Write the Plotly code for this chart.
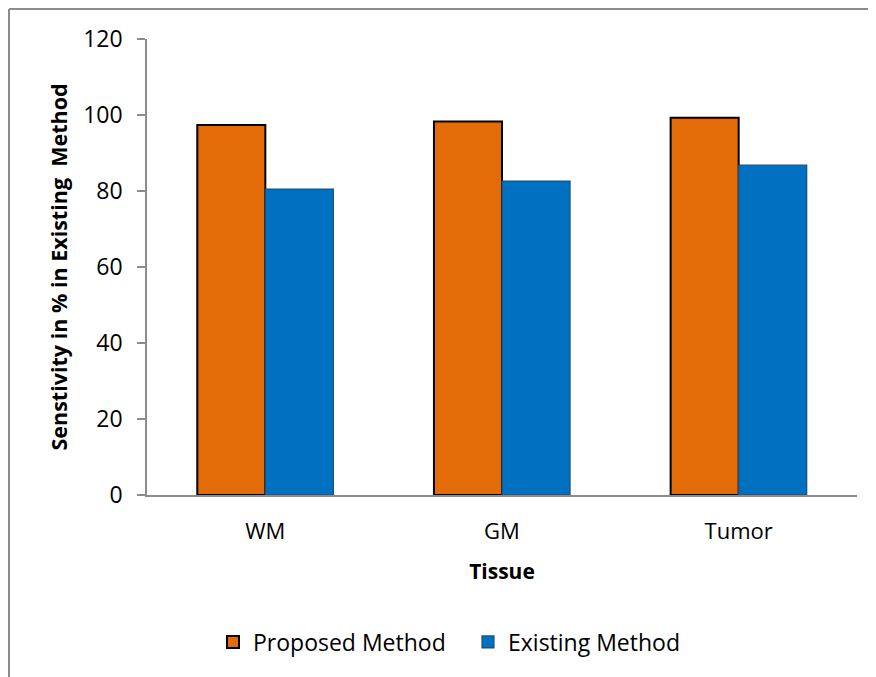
import plotly.graph_objects as go

categories = ["WM", "GM", "Tumor"]
proposed = [97.4, 98.3, 99.3]
existing = [80.5, 82.6, 86.8]
y_ticks = [0, 20, 40, 60, 80, 100, 120]

FONT = "Open Sans"

fig = go.Figure()
fig.add_trace(go.Bar(
    x=categories, y=proposed, name="Proposed Method",
    marker=dict(color="#E36C09", line=dict(color="#000000", width=2)),
))
fig.add_trace(go.Bar(
    x=categories, y=existing, name="Existing Method",
    marker=dict(color="#0070C0", line=dict(color="#1F4E79", width=1.2)),
))

# page body has an 8px margin, so the figure is placed at (8, 8)
OFF = 8
W, H = 876 - OFF, 677 - OFF
L, R, T, B = 147 - OFF, 19, 39 - OFF, 182
pw, ph = W - L - R, H - T - B

def px(x):
    return (x - OFF - L) / pw

def py(y):
    return (H - B - (y - OFF)) / ph

fig.update_layout(
    width=W, height=H,
    margin=dict(l=L, r=R, t=T, b=B),
    paper_bgcolor="white", plot_bgcolor="white",
    barmode="group", bargap=0.425, bargroupgap=0,
    font=dict(family=FONT, color="#000000"),
    showlegend=True,
    legend=dict(orientation="h", x=px(213), xanchor="left", y=py(642), yanchor="middle",
                font=dict(size=23, family=FONT), itemwidth=30, tracegroupgap=0,
                entrywidth=210, entrywidthmode="pixels"),
    xaxis=dict(
        showline=True, linecolor="#8C8C8C", linewidth=2, ticks="",
        tickfont=dict(size=22, family=FONT), ticklabelstandoff=16,
        title=dict(text="<b>Tissue</b>", font=dict(size=21, family=FONT), standoff=20),
        showgrid=False,
    ),
    yaxis=dict(
        range=[0, 120], tickvals=y_ticks, showgrid=False, zeroline=False,
        showline=True, linecolor="#8C8C8C", linewidth=1.5,
        ticks="outside", ticklen=8, tickcolor="#8C8C8C", tickwidth=1.5,
        tickfont=dict(size=23, family=FONT), ticklabelstandoff=10,
        title=dict(text="<b>Senstivity in % in Existing  Method</b>", font=dict(size=21.5, family=FONT), standoff=10),
    ),
    shapes=[
        dict(type="line", xref="paper", yref="paper", x0=px(9), x1=px(880), y0=py(9), y1=py(9),
             line=dict(color="#8C8C8C", width=2)),
        dict(type="line", xref="paper", yref="paper", x0=px(9), x1=px(9), y0=py(9), y1=py(680),
             line=dict(color="#8C8C8C", width=2)),
    ],
)

fig.write_html("out.html")
